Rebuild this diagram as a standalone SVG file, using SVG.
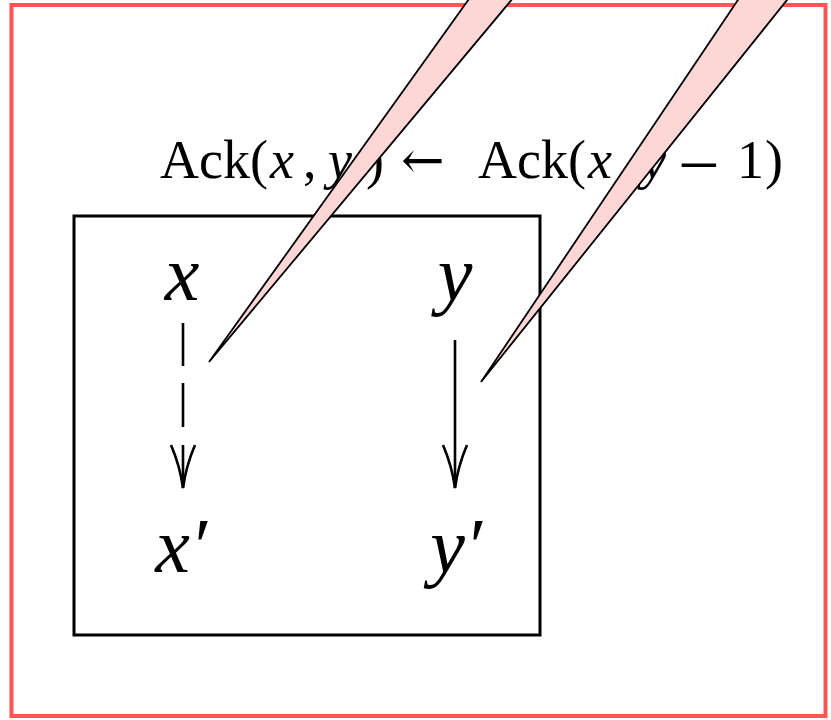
<svg xmlns="http://www.w3.org/2000/svg" xmlns:xlink="http://www.w3.org/1999/xlink" width="831" height="720" viewBox="0 0 831 720">
<style>
.t{font-family:"Liberation Serif","DejaVu Serif",serif;fill:#000}
.it{font-style:italic}
.sym{font-family:"DejaVu Serif",serif}
.ln{stroke:#000;stroke-width:2.6;fill:none;stroke-linecap:butt}
.wedge{fill:#ffd6d6;stroke:#000;stroke-width:1.8;stroke-linejoin:miter}
</style>
<defs>
<path id="head" d="M-12,-43 Q-3,-22 0,0 Q3,-22 12,-43" class="ln"/>
</defs>
<rect x="11.5" y="5" width="814" height="711" fill="#fff" stroke="#ff5555" stroke-width="4"/>
<g id="box">
<rect x="74" y="216" width="466" height="419" fill="none" stroke="#000" stroke-width="3"/>
</g>
<g id="label">
<text class="t" y="178" font-size="54"><tspan x="160">Ack(</tspan><tspan x="270" class="it">x</tspan><tspan x="303">,</tspan><tspan x="328" class="it">y</tspan><tspan x="366">)</tspan><tspan x="401" class="sym" font-size="52">←</tspan><tspan x="478">Ack(</tspan><tspan x="588" class="it">x</tspan><tspan x="617">,</tspan><tspan x="642" class="it">y</tspan><tspan x="678" font-size="74" dy="12">−</tspan><tspan x="737" dy="-12">1</tspan><tspan x="765">)</tspan></text>
</g>
<g id="node-x"><text class="t it" x="182" y="300" font-size="78" text-anchor="middle">x</text></g>
<g id="node-y"><text class="t it" x="455" y="300" font-size="78" text-anchor="middle">y</text></g>
<g id="node-xp"><text class="t it" x="181" y="572" font-size="78" text-anchor="middle">x′</text></g>
<g id="node-yp"><text class="t it" x="456" y="572" font-size="78" text-anchor="middle">y′</text></g>
<g id="connectors">
<line x1="183" y1="323" x2="183" y2="366" class="ln"/>
<line x1="183" y1="383" x2="183" y2="427" class="ln"/>
<line x1="183" y1="445" x2="183" y2="488" class="ln"/>
<use xlink:href="#head" x="183" y="488"/>
<line x1="455" y1="340" x2="455" y2="488" class="ln"/>
<use xlink:href="#head" x="455" y="488"/>
</g>
<g id="callouts">
<polygon class="wedge" points="209,362 479,-15 524,-15"/>
<polygon class="wedge" points="481,382 748,-15 799,-15"/>
</g>
</svg>
